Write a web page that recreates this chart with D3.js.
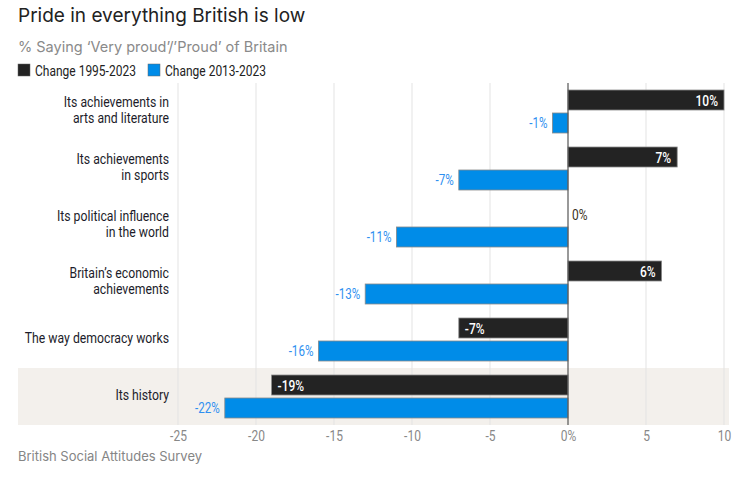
<!DOCTYPE html>
<html>
<head>
<meta charset="utf-8">
<script src="https://cdn.jsdelivr.net/npm/d3@7"></script>
<style>
  body { margin: 0; background: #fff; }
  .narrow { font-family: "Roboto", "Liberation Sans", sans-serif; }
  .main { font-family: "Inter", "Lato", "Noto Sans", sans-serif; }
</style>
</head>
<body>
<div id="chart"></div>
<script>
var categories = [
  ["Its achievements in", "arts and literature"],
  ["Its achievements", "in sports"],
  ["Its political influence", "in the world"],
  ["Britain\u2019s economic", "achievements"],
  ["The way democracy works"],
  ["Its history"]
]
var change1995 = [10, 7, 0, 6, -7, -19]
var change2013 = [-1, -7, -11, -13, -16, -22]
var ticks = [-25, -20, -15, -10, -5, 0, 5, 10]
var seriesNames = ["Change 1995-2023", "Change 2013-2023"]
var highlightRow = 5

var W = 754, H = 480
var black = "#232323", blue = "#008ce8", blueText = "#2e8ff0"
var squeeze = 0.8   // no condensed font installed, so squash the text horizontally

var svg = d3.select("#chart").append("svg")
  .attr("width", W).attr("height", H)

var x = d3.scaleLinear().domain([-25, 10]).range([178, 724])
var y = d3.scaleBand().domain(d3.range(categories.length)).range([83, 425])
var sub = d3.scaleBand().domain([0, 1]).range([7, 50]).paddingInner(0.13)

function narrowText(px, py, str, size, fill, anchor, weight){
  return svg.append("g").attr("transform", "translate(" + px + "," + py + ") scale(" + squeeze + ",1)")
    .append("text").attr("class", "narrow")
    .attr("font-size", size).attr("fill", fill)
    .attr("text-anchor", anchor || "start").attr("font-weight", weight || "normal")
    .text(str)
}

// title etc
svg.append("text").attr("class", "main").attr("x", 18).attr("y", 22)
  .attr("font-size", 19).attr("fill", "#222").text("Pride in everything British is low")
svg.append("text").attr("class", "main").attr("x", 18).attr("y", 52)
  .attr("font-size", 14.5).attr("fill", "#8a8a8a").text("% Saying \u2018Very proud\u2019/\u2019Proud\u2019 of Britain")

var lx = [18, 148]
seriesNames.forEach(function(s, i){
  svg.append("rect").attr("x", lx[i]).attr("y", 64).attr("width", 12).attr("height", 12)
    .attr("fill", i == 0 ? black : blue).attr("stroke", "#666").attr("stroke-width", 0.5)
  narrowText(lx[i] + 17, 75.5, s, 15, "#222")
})

// highlight row
svg.append("rect").attr("x", 18).attr("y", y(highlightRow))
  .attr("width", 729 - 18).attr("height", y.bandwidth()).attr("fill", "#f3f0ec")

// grid
svg.selectAll(".grid").data(ticks.filter(function(t){ return t != 0 })).enter()
  .append("line")
  .attr("x1", function(d){ return x(d) }).attr("x2", function(d){ return x(d) })
  .attr("y1", 83).attr("y2", 425)
  .attr("stroke", "#e3e3e3").attr("stroke-width", 1)

// axis labels
var axis = d3.axisBottom(x).tickValues(ticks).tickSize(0).tickPadding(5)
  .tickFormat(function(d){ return d == 0 ? "0%" : d })
var ag = svg.append("g").attr("transform", "translate(0,425)").call(axis)
ag.select(".domain").remove()
ag.selectAll("text").attr("class", "narrow").attr("font-size", 15).attr("fill", "#888")
  .attr("transform", "scale(" + squeeze + ",1)")

// category labels
categories.forEach(function(lines, i){
  var cy = y(i) + y.bandwidth() / 2 - 2
  var t = svg.append("g").attr("transform", "translate(169," + cy + ") scale(0.79,1)")
    .append("text").attr("class", "narrow").attr("text-anchor", "end")
    .attr("font-size", 15.5).attr("fill", "#1c1c2a")
  lines.forEach(function(l, j){
    t.append("tspan").attr("x", 0)
      .attr("y", 5.5 + (j - (lines.length - 1) / 2) * 16.5)
      .text(l)
  })
})

// bars
var series = [change1995, change2013]
series.forEach(function(vals, s){
  svg.selectAll(".bar" + s).data(vals).enter().append("rect")
    .attr("x", function(d){ return x(Math.min(0, d)) })
    .attr("y", function(d, i){ return y(i) + sub(s) })
    .attr("width", function(d){ return Math.abs(x(d) - x(0)) })
    .attr("height", sub.bandwidth())
    .attr("fill", s == 0 ? black : blue)
    .attr("stroke", "#8a8a8a").attr("stroke-width", 0.8)
    .style("display", function(d){ return d == 0 ? "none" : null })
})

// zero line
svg.append("line").attr("x1", x(0)).attr("x2", x(0)).attr("y1", 83).attr("y2", 425)
  .attr("stroke", "#555").attr("stroke-width", 1.2)

// value labels
change1995.forEach(function(d, i){
  var py = y(i) + sub(0) + sub.bandwidth() / 2 + 5.5
  var px = d > 0 ? x(d) - 6 : d < 0 ? x(d) + 6 : x(0) + 4
  narrowText(px, py, d + "%", 15, d == 0 ? "#3a3020" : "#fff", d > 0 ? "end" : "start", d == 0 ? "normal" : 500)
})

change2013.forEach(function(d, i){
  var py = y(i) + sub(1) + sub.bandwidth() / 2 + 5.5
  narrowText(x(d) - 5, py, d + "%", 14.5, blueText, "end")
})

svg.append("text").attr("class", "main").attr("x", 18).attr("y", 461)
  .attr("font-size", 13).attr("fill", "#858585").text("British Social Attitudes Survey")
</script>
</body>
</html>
